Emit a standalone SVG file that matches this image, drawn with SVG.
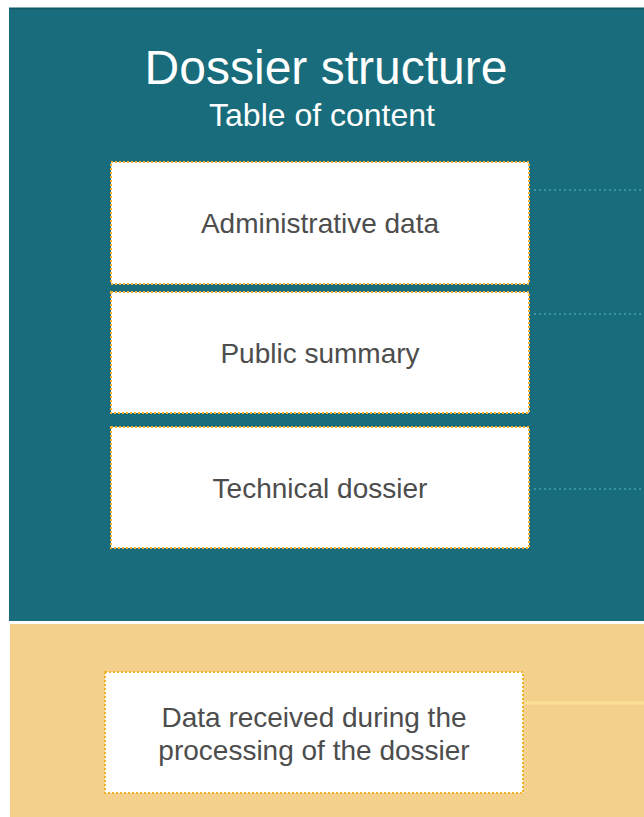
<svg xmlns="http://www.w3.org/2000/svg" width="644" height="817" viewBox="0 0 644 817">
<style>
.box{fill:#ffffff;stroke:#f2b02c;stroke-width:2;stroke-dasharray:2 2}
.lbl{font-family:"Liberation Sans",Arial,sans-serif;font-size:28px;fill:#4d4d4d;text-anchor:middle}
.ttl{font-family:"Liberation Sans",Arial,sans-serif;fill:#ffffff;text-anchor:middle}
.dot{stroke:#3596a2;stroke-width:2;stroke-dasharray:2 3;fill:none}
</style>
<rect x="0" y="0" width="644" height="817" fill="#ffffff"/>
<g id="panel-dossier">
<rect x="9" y="8" width="635" height="613" fill="#186c7b"/>
<rect x="9" y="7.5" width="635" height="2" fill="#0f5a66"/>
<text class="ttl" x="326" y="84" font-size="48">Dossier structure</text>
<text class="ttl" x="322" y="126" font-size="32">Table of content</text>
</g>
<g id="panel-processing">
<rect x="10" y="624" width="634" height="193" fill="#f3d08c"/>
</g>
<g id="connectors">
<line class="dot" x1="534" y1="190" x2="644" y2="190"/>
<line class="dot" x1="534" y1="314" x2="644" y2="314"/>
<line class="dot" x1="534" y1="489" x2="644" y2="489"/>
<line x1="504" y1="703" x2="644" y2="703" stroke="#fbe196" stroke-width="3"/>
</g>
<g id="node-admin">
<rect class="box" x="111" y="162" width="418" height="122"/>
<text class="lbl" x="320" y="233">Administrative data</text>
</g>
<g id="node-summary">
<rect class="box" x="111" y="292" width="418" height="121"/>
<text class="lbl" x="320" y="363">Public summary</text>
</g>
<g id="node-technical">
<rect class="box" x="111" y="427" width="418" height="121"/>
<text class="lbl" x="320" y="498">Technical dossier</text>
</g>
<g id="node-received">
<rect class="box" x="105" y="672" width="418" height="121"/>
<text class="lbl" x="314" y="727">Data received during the</text>
<text class="lbl" x="314" y="760">processing of the dossier</text>
</g>
</svg>
